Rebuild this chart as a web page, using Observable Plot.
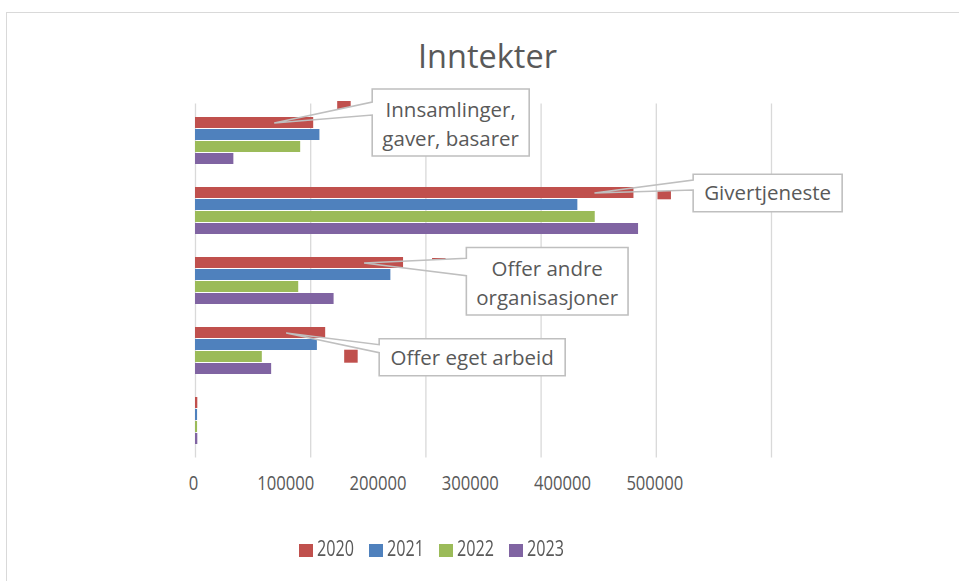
<!DOCTYPE html>
<html>
<head>
<meta charset="utf-8">
<script src="https://cdn.jsdelivr.net/npm/d3@7"></script>
<script src="https://cdn.jsdelivr.net/npm/@observablehq/plot@0.6"></script>
<style>
  html, body { margin: 0; padding: 0; background: #fff; overflow: hidden; width: 959px; height: 581px; }
  #wrap { position: relative; width: 959px; height: 581px; overflow: hidden; }
  #frame { position: absolute; left: 6px; top: 12px; width: 1000px; height: 1000px; box-sizing: border-box;
           border-left: 1.5px solid #d9d9d9; border-top: 1.5px solid #d9d9d9; }
  #chart { position: absolute; left: 0; top: 0; }
  #title { position: absolute; left: 0; width: 975px; top: 40px; text-align: center;
           font-family: "Open Sans", sans-serif; font-size: 32.5px; line-height: 32.5px; color: #595959; }
  #legend { position: absolute; left: 0; top: 0; width: 959px; height: 581px; pointer-events: none; }
  .item { position: absolute; top: 538.3px; height: 21px; }
  .sw { position: absolute; left: 0; top: 6px; width: 14px; height: 13px; }
  .lt { position: absolute; left: 17.4px; top: 0; font-family: "Open Sans", sans-serif;
        font-size: 21px; line-height: 21px; color: #595959; white-space: nowrap;
        transform: scaleX(0.77); transform-origin: 0 0; }
</style>
</head>
<body>
<div id="wrap">
  <div id="frame"></div>
  <div id="chart"></div>
  <div id="title">Inntekter</div>
  <div id="legend"></div>
</div>
<script>
// ---- data ----
const categories = ["Innsamlinger, gaver, basarer", "Givertjeneste", "Offer andre organisasjoner", "Offer eget arbeid", ""];
const years = ["2020", "2021", "2022", "2023"];
const colors = ["#C0504D", "#4F81BD", "#9BBB59", "#8064A2"];
const values2020 = [102600, 380600, 180600, 113000, 2000];
const values2021 = [108000, 331900, 169600, 105800, 1800];
const values2022 = [91300, 347000, 89600, 58000, 1800];
const values2023 = [33300, 384600, 120300, 66100, 2000];
const xTicks = [0, 100000, 200000, 300000, 400000, 500000];

// callout labels (category names shown as data-label callouts on the 2020 bars)
const calloutLines = [["Innsamlinger,", "gaver, basarer"], ["Givertjeneste"], ["Offer andre", "organisasjoner"], ["Offer eget arbeid"]];

// ---- layout/style (not data) ----
const labelRatio = 0.801; // tick labels in the reference sit compressed relative to the gridlines
const calloutGeom = [
  {box: [98, -34, 157, 67], joins: [13, 26], key: [63, -22]},
  {box: [98.7, -18.7, 149, 37.4], joins: [5.7, 15.7], key: [63, -6.7]},
  {box: [102.3, -15.5, 161.7, 67.5], joins: [10.8, 28.2], key: [68, -5]},
  {box: [93, 5.7, 186, 37], joins: [6, 14], key: [58, 16.7]}
];

const series = [values2020, values2021, values2022, values2023];
const rows = categories.flatMap((c, i) => years.map((y, j) => ({category: c, year: y, value: series[j][i]})));

const chart = Plot.plot({
  width: 959,
  height: 581,
  marginLeft: 195,
  marginRight: 188,
  marginTop: 103.5,
  marginBottom: 123.5,
  style: {background: "transparent", overflow: "visible"},
  x: {domain: [0, 500000], axis: null},
  y: {domain: categories, axis: null, paddingInner: 0.322, paddingOuter: 0.161},
  color: {domain: years, range: colors},
  marks: [
    Plot.ruleX(xTicks, {stroke: "#d9d9d9", strokeWidth: 1.3}),
    ...years.map((yr, j) => Plot.barX(rows.filter(r => r.year === yr), {
      x: "value", y: "category", fill: "year", insetTop: 12 * j, insetBottom: 12 * (3 - j)
    })),
    Plot.text(xTicks, {
      x: d => d * labelRatio, frameAnchor: "bottom", dy: 32, dx: -2,
      text: d => String(d), fontSize: 20, fill: "#595959",
      fontFamily: "'Open Sans', sans-serif"
    })
  ]
});
document.getElementById("chart").appendChild(chart);

const svg = d3.select(chart);
// narrow the tick-label glyphs like the reference
svg.selectAll('g[aria-label="text"] text').each(function() {
  const n = this.textContent.length;
  d3.select(this).attr("textLength", n * 9.5).attr("lengthAdjust", "spacingAndGlyphs");
});

// ---- callouts, positioned through the plot's own scales ----
const xs = chart.scale("x"), ys = chart.scale("y");
const defs = svg.append("defs");
const g = svg.append("g").attr("class", "callouts");
calloutLines.forEach((lines, i) => {
  const geo = calloutGeom[i];
  const ax = xs.apply(values2020[i]) - 39;
  const ay = ys.apply(categories[i]) + 6;
  const [bdx, bdy, bw, bh] = geo.box;
  const left = ax + bdx, top = ay + bdy, right = left + bw, bottom = top + bh;
  const j1 = top + geo.joins[0], j2 = top + geo.joins[1];
  const mask = defs.append("mask").attr("id", "m" + i);
  mask.append("rect").attr("x", 0).attr("y", 0).attr("width", 959).attr("height", 581).attr("fill", "white");
  mask.append("polygon").attr("points", `${ax},${ay} ${left},${j1} ${left},${j2}`).attr("fill", "black");
  g.append("rect").attr("x", ax + geo.key[0]).attr("y", ay + geo.key[1]).attr("width", 13.5).attr("height", 13)
    .attr("fill", colors[0]).attr("mask", `url(#m${i})`);
  g.append("rect").attr("x", left).attr("y", top).attr("width", bw).attr("height", bh).attr("fill", "white");
  g.append("path")
    .attr("d", `M${left},${j1}V${top}H${right}V${bottom}H${left}V${j2}L${ax},${ay}Z`)
    .attr("fill", "none").attr("stroke", "#bfbfbf").attr("stroke-width", 1.6).attr("stroke-linejoin", "miter");
  const cx = (left + right) / 2, cy = (top + bottom) / 2;
  const base0 = lines.length === 1 ? cy + 7.4 : cy - 5.2;
  const t = g.append("text").attr("text-anchor", "middle").attr("fill", "#595959")
    .attr("font-family", "'Open Sans', sans-serif").attr("font-size", 20.5);
  lines.forEach((ln, k) => t.append("tspan").attr("x", cx).attr("y", base0 + k * 28.6).text(ln));
});

// ---- legend ----
const legend = document.getElementById("legend");
years.forEach((yr, j) => {
  const it = document.createElement("div");
  it.className = "item";
  it.style.left = (299.3 + 70 * j) + "px";
  const sw = document.createElement("div");
  sw.className = "sw";
  sw.style.background = chart.scale("color").apply(yr);
  const lt = document.createElement("div");
  lt.className = "lt";
  lt.textContent = yr;
  it.appendChild(sw); it.appendChild(lt);
  legend.appendChild(it);
});
</script>
</body>
</html>
